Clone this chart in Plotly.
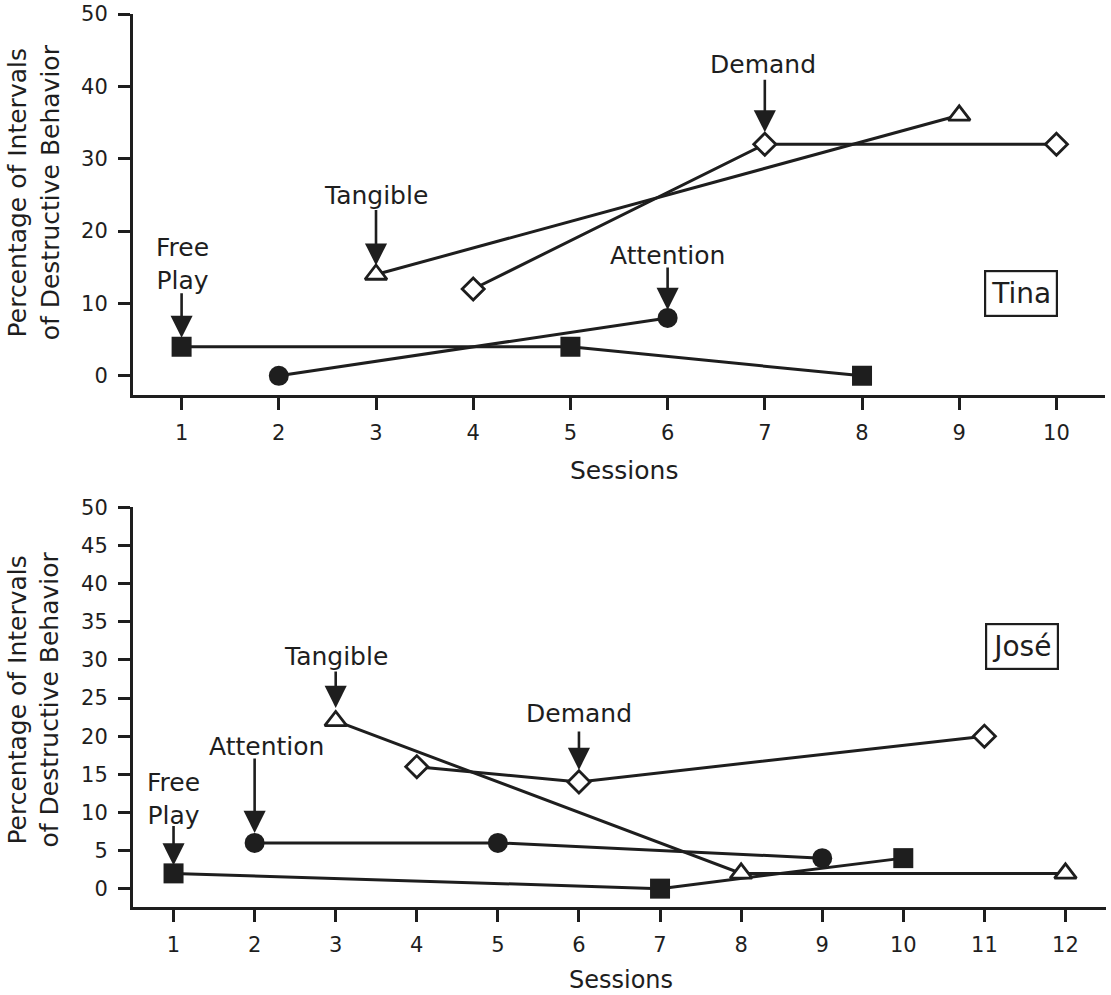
import plotly.graph_objects as go

# ---------------- data ----------------
tina_freeplay_x = [1, 5, 8]
tina_freeplay_y = [4, 4, 0]
tina_attention_x = [2, 6]
tina_attention_y = [0, 8]
tina_tangible_x = [3, 9]
tina_tangible_y = [14, 36]
tina_demand_x = [4, 7, 10]
tina_demand_y = [12, 32, 32]

jose_freeplay_x = [1, 7, 10]
jose_freeplay_y = [2, 0, 4]
jose_attention_x = [2, 5, 9]
jose_attention_y = [6, 6, 4]
jose_tangible_x = [3, 8, 12]
jose_tangible_y = [22, 2, 2]
jose_demand_x = [4, 6, 11]
jose_demand_y = [16, 14, 20]

tina_xticks = list(range(1, 11))
tina_yticks = list(range(0, 51, 10))
jose_xticks = list(range(1, 13))
jose_yticks = list(range(0, 51, 5))

INK = "#1e1e1e"
FONT = "DejaVu Sans"

fig = go.Figure()

styles = {
    "freeplay": dict(symbol="square", size=20, color=INK, line=dict(width=0)),
    "attention": dict(symbol="circle", size=20, color=INK, line=dict(width=0)),
    "tangible": dict(symbol="triangle-up", size=19, color="white", line=dict(width=2.8, color=INK)),
    "demand": dict(symbol="diamond", size=17, color="white", line=dict(width=2.8, color=INK)),
}

panels = [
    ("x", "y", [("freeplay", tina_freeplay_x, tina_freeplay_y),
                ("attention", tina_attention_x, tina_attention_y),
                ("tangible", tina_tangible_x, tina_tangible_y),
                ("demand", tina_demand_x, tina_demand_y)]),
    ("x2", "y2", [("freeplay", jose_freeplay_x, jose_freeplay_y),
                  ("attention", jose_attention_x, jose_attention_y),
                  ("tangible", jose_tangible_x, jose_tangible_y),
                  ("demand", jose_demand_x, jose_demand_y)]),
]

# lines first
for xa, ya, series in panels:
    for name, xs, ys in series:
        fig.add_trace(go.Scatter(x=xs, y=ys, mode="lines", xaxis=xa, yaxis=ya,
                                 line=dict(color=INK, width=3), showlegend=False,
                                 hoverinfo="skip"))
# markers on top
for xa, ya, series in panels:
    for name, xs, ys in series:
        fig.add_trace(go.Scatter(x=xs, y=ys, mode="markers", xaxis=xa, yaxis=ya,
                                 marker=styles[name], showlegend=False))

annotations = []
LABEL_SIZE = 25

def phase_label(xref, yref, x, y, text, arrow_len, standoff, text_dy, text_dx=0):
    annotations.append(dict(x=x, y=y, xref=xref, yref=yref, text="", showarrow=True,
                            ax=0, ay=-arrow_len, arrowhead=2, arrowsize=1.7,
                            arrowwidth=2.6, arrowcolor=INK, standoff=standoff))
    annotations.append(dict(x=x, y=y, xref=xref, yref=yref, text=text, showarrow=False,
                            xshift=text_dx, yshift=text_dy, xanchor="center", yanchor="middle",
                            font=dict(family=FONT, size=LABEL_SIZE, color=INK)))

# Tina
phase_label("x", "y", tina_freeplay_x[0], tina_freeplay_y[0], "Free<br>Play", 55, 9, 83, 1)
phase_label("x", "y", tina_tangible_x[0], tina_tangible_y[0], "Tangible", 66, 9, 79)
phase_label("x", "y", tina_attention_x[1], tina_attention_y[1], "Attention", 52, 8, 62)
phase_label("x", "y", tina_demand_x[1], tina_demand_y[1], "Demand", 66, 12, 80, -2)
# José
phase_label("x2", "y2", jose_freeplay_x[0], jose_freeplay_y[0], "Free<br>Play", 49, 8, 74)
phase_label("x2", "y2", jose_attention_x[0], jose_attention_y[0], "Attention", 86, 10, 96, 12)
phase_label("x2", "y2", jose_tangible_x[0], jose_tangible_y[0], "Tangible", 51, 13, 64)
phase_label("x2", "y2", jose_demand_x[1], jose_demand_y[1], "Demand", 52, 12, 68)

# name boxes
annotations.append(dict(x=9.64, y=11.4, xref="x", yref="y", text="Tina", showarrow=False,
                        font=dict(family=FONT, size=28, color=INK), bordercolor=INK,
                        borderwidth=2.2, borderpad=5, bgcolor="white"))
annotations.append(dict(x=11.46, y=31.8, xref="x2", yref="y2", text="José", showarrow=False,
                        font=dict(family=FONT, size=28, color=INK), bordercolor=INK,
                        borderwidth=2.2, borderpad=5, bgcolor="white"))

# axis titles
for xr, yr, ty, tx, fs in [("x domain", "y domain", -0.197, 0.505, LABEL_SIZE),
                           ("x2 domain", "y2 domain", -0.182, 0.502, 24)]:
    annotations.append(dict(x=tx, y=ty, xref=xr, yref=yr, text="Sessions", showarrow=False,
                            xanchor="center", yanchor="middle",
                            font=dict(family=FONT, size=fs, color=INK)))
for xr, yr, ty in [("x domain", "y domain", 0.533), ("x2 domain", "y2 domain", 0.52)]:
    annotations.append(dict(x=-0.1015, y=ty, xref=xr, yref=yr,
                            text="Percentage of Intervals<br>of Destructive Behavior",
                            showarrow=False, textangle=-90, xanchor="center", yanchor="middle",
                            font=dict(family=FONT, size=LABEL_SIZE, color=INK)))

axis_common = dict(showline=True, linewidth=3, linecolor=INK, ticks="outside", ticklen=12,
                   tickwidth=3, tickcolor=INK, showgrid=False, zeroline=False,
                   automargin=False,
                   tickfont=dict(family=FONT, size=21, color=INK))

fig.update_layout(
    width=1111, height=995,
    margin=dict(l=133, r=5, t=14, b=88.3),
    paper_bgcolor="white", plot_bgcolor="white",
    showlegend=False,
    xaxis=dict(axis_common, domain=[0, 0.999], range=[0.5, 10.5], tickvals=tina_xticks,
               anchor="y", ticklabelstandoff=5),
    yaxis=dict(axis_common, domain=[0.5732, 1.0], range=[-2.67, 50], tickvals=tina_yticks,
               anchor="x", ticklabelstandoff=6),
    xaxis2=dict(axis_common, domain=[0, 1.0], range=[0.5, 12.5], tickvals=jose_xticks,
                anchor="y2", ticklabelstandoff=5),
    yaxis2=dict(axis_common, domain=[0.0, 0.4474], range=[-2.41, 50], tickvals=jose_yticks,
                anchor="x2", ticklabelstandoff=6),
    annotations=annotations,
)

fig.write_html("out.html",
               config={"displayModeBar": False},
               post_script="document.body.style.margin='0';document.body.style.overflow='hidden';")
